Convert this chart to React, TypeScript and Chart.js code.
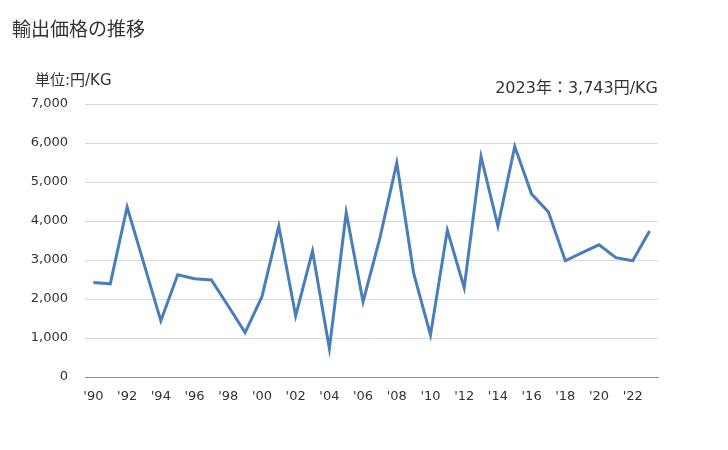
import React, { useEffect, useRef } from "react";
import { Chart, registerables } from "chart.js";

Chart.register(...registerables);

const years: string[] = [
  "1990","1991","1992","1993","1994","1995","1996","1997","1998","1999",
  "2000","2001","2002","2003","2004","2005","2006","2007","2008","2009",
  "2010","2011","2012","2013","2014","2015","2016","2017","2018","2019",
  "2020","2021","2022","2023",
];
const prices: number[] = [
  2420, 2390, 4360, 2900, 1440, 2620, 2520, 2490, 1820, 1140,
  2060, 3870, 1570, 3230, 730, 4210, 1930, 3570, 5490, 2660,
  1080, 3760, 2290, 5650, 3870, 5910, 4690, 4230, 2980, 3190,
  3390, 3060, 2980, 3743,
];
const yTicks: number[] = [0, 1000, 2000, 3000, 4000, 5000, 6000, 7000];

const title = "輸出価格の推移";
const unitLabel = "単位:円/KG";
const latestLabel = "2023年：3,743円/KG";

const PAD_L = 10;
const PAD_T = 104;
const PAD_R = 70;
const PAD_B = 10;
const TICK_FONT = "'DejaVu Sans', Verdana, sans-serif";

export default function App() {
  const ref = useRef<HTMLCanvasElement | null>(null);
  useEffect(() => {
    document.body.style.margin = "0";
    const ctx = ref.current!;
    const chart = new Chart(ctx, {
      type: "line",
      data: {
        labels: years,
        datasets: [
          {
            data: prices,
            borderColor: "#4a7ebb",
            borderWidth: 3,
            pointRadius: 0,
            tension: 0,
            fill: false,
          },
        ],
      },
      options: {
        responsive: false,
        animation: false,
        maintainAspectRatio: false,
        layout: { padding: { left: PAD_L, top: PAD_T, right: PAD_R, bottom: PAD_B } },
        plugins: { legend: { display: false }, tooltip: { enabled: false } },
        scales: {
          x: {
            type: "category",
            offset: true,
            grid: { display: false, drawTicks: false },
            border: { display: true, color: "#8c8c8c", width: 1 },
            ticks: {
              autoSkip: false,
              maxRotation: 0,
              padding: 12,
              color: "#333333",
              font: { family: TICK_FONT, size: 13 },
              callback: (_v: any, i: number) =>
                i % 2 === 0 ? "'" + years[i].slice(2) : "",
            },
            afterFit: (s: any) => {
              s.height = 450 - 377 - PAD_B;
            },
          },
          y: {
            min: 0,
            max: 7000,
            afterBuildTicks: (s: any) => {
              s.ticks = yTicks.map((v) => ({ value: v }));
            },
            grid: { color: "#d9d9d9", drawTicks: false, lineWidth: 1 },
            border: { display: false },
            ticks: {
              padding: 17,
              color: "#333333",
              font: { family: TICK_FONT, size: 13 },
              callback: (v: any) => Number(v).toLocaleString("en-US"),
            },
            afterFit: (s: any) => {
              s.width = 85 - PAD_L;
            },
          },
        },
      },
    });
    return () => chart.destroy();
  }, []);

  const jp = "'Noto Sans CJK JP', 'Noto Sans', sans-serif";
  const mixed = "'DejaVu Sans', 'Noto Sans CJK JP', sans-serif";
  return (
    <div style={{ position: "absolute", left: 0, top: 0, width: 728, height: 450, background: "#fff" }}>
      <canvas ref={ref} width={728} height={450} style={{ position: "absolute", left: 0, top: 0 }} />
      <div style={{ position: "absolute", left: 12, top: 15, fontFamily: jp, fontSize: 19, color: "#333", lineHeight: "26px" }}>
        {title}
      </div>
      <div style={{ position: "absolute", left: 35, top: 70, fontFamily: mixed, fontSize: 15, color: "#333", lineHeight: "20px", whiteSpace: "nowrap" }}>
        {unitLabel}
      </div>
      <div style={{ position: "absolute", right: 728 - 658, top: 76, fontFamily: mixed, fontSize: 16, color: "#333", lineHeight: "24px", whiteSpace: "nowrap" }}>
        {latestLabel}
      </div>
    </div>
  );
}
